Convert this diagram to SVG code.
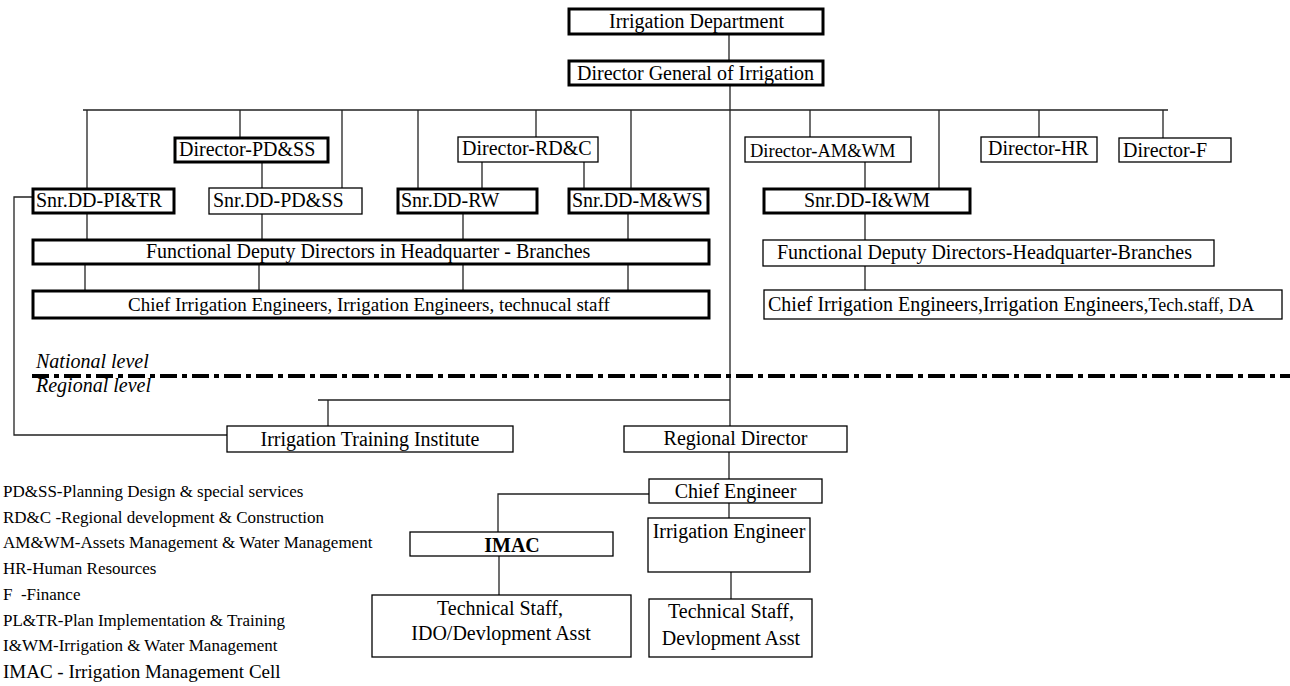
<svg xmlns="http://www.w3.org/2000/svg" width="1290" height="686" viewBox="0 0 1290 686">
<style>
text{font-family:"Liberation Serif","Times New Roman",serif;font-size:20px;fill:#000}
.b{fill:#fff;stroke:#000;stroke-width:1.3}
.k{fill:#fff;stroke:#000;stroke-width:3}
.c{fill:none;stroke:#222;stroke-width:1.3}
.m{text-anchor:middle}
.lg{font-size:17px}
.it{font-style:italic}
</style>
<rect width="1290" height="686" fill="#fff"/>
<g id="connectors">
<path class="c" d="M729 35V60M730 86V426M83 110H1168M87 110V188M240 110V137M342 110V188M418 110V188M536 110V137M631 110V188M810 110V137M939 110V188M1039 110V137M1163 110V138"/>
<path class="c" d="M262 163V188M482 162V188M584 162V188M865 162V188"/>
<path class="c" d="M87 214V239M262 214V239M463 214V239M628 214V239M85 265V290M259 265V290M463 265V290M628 265V290M865 214V240M865 266V290"/>
<path class="c" d="M32 197H14V435H227M730 400H318M328 400V426"/>
<path class="c" d="M729 452V479M649 494H498V532M499 556V595M729 503V518M731 572V599"/>
<path d="M32 376H1290" stroke="#000" stroke-width="4" stroke-dasharray="17 5 5 5" fill="none"/>
</g>
<g id="n-dept"><rect class="k" x="569" y="9" width="254" height="25"/><text x="609" y="28">Irrigation Department</text></g>
<g id="n-dg"><rect class="k" x="569" y="61" width="254" height="24"/><text x="577" y="80">Director General of Irrigation</text></g>
<g id="n-dpdss"><rect class="k" x="175" y="138" width="153" height="24"/><text x="179" y="156">Director-PD&amp;SS</text></g>
<g id="n-drdc"><rect class="b" x="458" y="137" width="140" height="25"/><text x="462" y="155">Director-RD&amp;C</text></g>
<g id="n-damwm"><rect class="b" x="745" y="137" width="166" height="25"/><text x="750" y="157" style="font-size:18.5px">Director-AM&amp;WM</text></g>
<g id="n-dhr"><rect class="b" x="981" y="137" width="116" height="25"/><text x="988" y="155">Director-HR</text></g>
<g id="n-df"><rect class="b" x="1119" y="138" width="112" height="24"/><text x="1123" y="157">Director-F</text></g>
<g id="n-spitr"><rect class="k" x="33" y="189" width="141" height="24"/><text x="36" y="207">Snr.DD-PI&amp;TR</text></g>
<g id="n-spdss"><rect class="b" x="209" y="188" width="153" height="26"/><text x="213" y="207">Snr.DD-PD&amp;SS</text></g>
<g id="n-srw"><rect class="k" x="398" y="189" width="139" height="24"/><text x="401" y="207">Snr.DD-RW</text></g>
<g id="n-smws"><rect class="k" x="569" y="189" width="139" height="24"/><text x="572" y="207">Snr.DD-M&amp;WS</text></g>
<g id="n-siwm"><rect class="k" x="764" y="189" width="206" height="24"/><text class="m" x="867" y="207">Snr.DD-I&amp;WM</text></g>
<g id="n-fdd-l"><rect class="k" x="33" y="240" width="676" height="24"/><text x="146" y="258">Functional Deputy Directors in Headquarter - Branches</text></g>
<g id="n-cie-l"><rect class="k" x="33" y="291" width="676" height="27"/><text x="128" y="311" style="font-size:19px">Chief Irrigation Engineers, Irrigation Engineers, technucal staff</text></g>
<g id="n-fdd-r"><rect class="b" x="763" y="240" width="451" height="26"/><text x="777" y="259">Functional Deputy Directors-Headquarter-Branches</text></g>
<g id="n-cie-r"><rect class="b" x="764" y="290" width="518" height="29"/><text x="768" y="311">Chief Irrigation Engineers,Irrigation Engineers,<tspan style="font-size:18px">Tech.staff, DA</tspan></text></g>
<g id="levels"><text class="it" x="36" y="368">National level</text><text class="it" x="36" y="392">Regional level</text></g>
<g id="n-iti"><rect class="b" x="227" y="426" width="286" height="26"/><text class="m" x="370" y="446">Irrigation Training Institute</text></g>
<g id="n-rd"><rect class="b" x="624" y="426" width="223" height="26"/><text class="m" x="735.5" y="445">Regional Director</text></g>
<g id="n-ce"><rect class="b" x="649" y="479" width="173" height="24"/><text class="m" x="735.5" y="498">Chief Engineer</text></g>
<g id="n-imac"><rect class="b" x="410" y="532" width="203" height="24"/><text class="m" x="512" y="552" font-weight="bold">IMAC</text></g>
<g id="n-ie"><rect class="b" x="648" y="518" width="162" height="54"/><text class="m" x="729" y="538">Irrigation Engineer</text></g>
<g id="n-ts1"><rect class="b" x="372" y="595" width="259" height="62"/><text class="m" x="500" y="615">Technical Staff,</text><text class="m" x="501" y="640">IDO/Devlopment Asst</text></g>
<g id="n-ts2"><rect class="b" x="649" y="599" width="163" height="58"/><text class="m" x="731" y="618">Technical Staff,</text><text class="m" x="731" y="645">Devlopment Asst</text></g>
<g id="legend">
<text class="lg" x="3" y="497">PD&amp;SS-Planning Design &amp; special services</text>
<text class="lg" x="3" y="523">RD&amp;C -Regional development &amp; Construction</text>
<text class="lg" x="3" y="548">AM&amp;WM-Assets Management &amp; Water Management</text>
<text class="lg" x="3" y="574">HR-Human Resources</text>
<text class="lg" x="3" y="600" style="white-space:pre">F  -Finance</text>
<text class="lg" x="3" y="626">PL&amp;TR-Plan Implementation &amp; Training</text>
<text class="lg" x="3" y="651">I&amp;WM-Irrigation &amp; Water Management</text>
<text x="3" y="678" style="font-size:19px">IMAC - Irrigation Management Cell</text>
</g>
</svg>
